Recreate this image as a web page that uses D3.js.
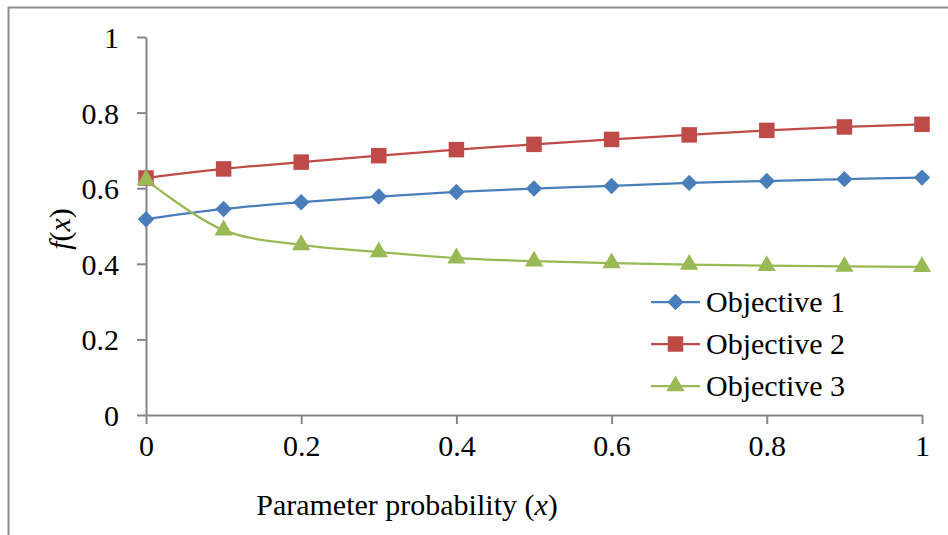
<!DOCTYPE html>
<html>
<head>
<meta charset="utf-8">
<script src="https://cdn.jsdelivr.net/npm/d3@7"></script>
<style>
  body { margin: 0; background: #fff; }
  text { font-family: "Liberation Serif", "Times New Roman", "DejaVu Serif", serif; fill: #000; }
</style>
</head>
<body>
<svg id="chart" width="948" height="535"></svg>
<script>
const xValues = [0, 0.1, 0.2, 0.3, 0.4, 0.5, 0.6, 0.7, 0.8, 0.9, 1];
const objective1 = [0.518, 0.545, 0.563, 0.578, 0.590, 0.599, 0.606, 0.614, 0.619, 0.624, 0.628];
const objective2 = [0.627, 0.651, 0.669, 0.686, 0.702, 0.716, 0.729, 0.741, 0.753, 0.762, 0.769];
const objective3 = [0.622, 0.489, 0.450, 0.431, 0.415, 0.407, 0.402, 0.398, 0.395, 0.393, 0.392];
const seriesNames = ["Objective 1", "Objective 2", "Objective 3"];
const xTicks = [0, 0.2, 0.4, 0.6, 0.8, 1];
const yTicks = [0, 0.2, 0.4, 0.6, 0.8, 1];

const series = [
  { name: seriesNames[0], values: objective1, color: "#4a7ebb", symbol: d3.symbolSquare, size: 135, rot: 45 },
  { name: seriesNames[1], values: objective2, color: "#be4b48", symbol: d3.symbolSquare, size: 240, rot: 0 },
  { name: seriesNames[2], values: objective3, color: "#98b954", symbol: d3.symbolTriangle, size: 145, rot: 0 }
];

const svg = d3.select("#chart");

// outer chart border
svg.append("rect")
  .attr("x", 8.5).attr("y", 7.5)
  .attr("width", 1000).attr("height", 1000)
  .attr("fill", "none")
  .attr("stroke", "#8c8c8c")
  .attr("stroke-width", 2);

const x = d3.scaleLinear().domain([0, 1]).range([146, 922]);
const y = d3.scaleLinear().domain([0, 1]).range([415, 37]);

const axisColor = "#868686";
const fontSize = 30;

const xAxis = svg.append("g")
  .attr("transform", `translate(0,${y(0)})`)
  .call(d3.axisBottom(x).tickValues(xTicks).tickFormat(d3.format("")).tickSizeInner(9).tickSizeOuter(0).tickPadding(11));
const yAxis = svg.append("g")
  .attr("transform", `translate(${x(0)},0)`)
  .call(d3.axisLeft(y).tickValues(yTicks).tickFormat(d3.format("")).tickSizeInner(9).tickSizeOuter(0).tickPadding(18));

[xAxis, yAxis].forEach(a => {
  a.attr("font-family", null).attr("font-size", null);
  a.select(".domain").attr("stroke", axisColor).attr("stroke-width", 2);
  a.selectAll(".tick line").attr("stroke", axisColor).attr("stroke-width", 2);
  a.selectAll(".tick text")
    .attr("font-size", fontSize)
    .attr("fill", "#000");
});
yAxis.selectAll(".tick text").attr("dy", "0.35em");

// axis titles
const xt = svg.append("text")
  .attr("x", 407).attr("y", 515)
  .attr("text-anchor", "middle")
  .attr("font-size", fontSize);
xt.append("tspan").text("Parameter probability (");
xt.append("tspan").attr("font-style", "italic").text("x");
xt.append("tspan").text(")");

const yt = svg.append("text")
  .attr("transform", `translate(70,229) rotate(-90)`)
  .attr("text-anchor", "middle")
  .attr("font-size", fontSize);
yt.append("tspan").attr("font-style", "italic").text("f");
yt.append("tspan").text("(");
yt.append("tspan").attr("font-style", "italic").text("x");
yt.append("tspan").text(")");

const line = d3.line()
  .x((d, i) => x(xValues[i]))
  .y(d => y(d))
  .curve(d3.curveCatmullRom.alpha(0.5));

series.forEach(s => {
  svg.append("path")
    .datum(s.values)
    .attr("d", line)
    .attr("fill", "none")
    .attr("stroke", s.color)
    .attr("stroke-width", 2.25);
});

series.forEach(s => {
  const sym = d3.symbol().type(s.symbol).size(s.size);
  svg.append("g").selectAll("path")
    .data(s.values)
    .join("path")
    .attr("d", sym)
    .attr("transform", (d, i) => `translate(${x(xValues[i])},${y(d)}) rotate(${s.rot})`)
    .attr("fill", s.color);
});

// legend
const legend = svg.append("g").attr("transform", "translate(651,302)");
series.forEach((s, i) => {
  const row = legend.append("g").attr("transform", `translate(0,${i * 42})`);
  row.append("line")
    .attr("x1", 0).attr("x2", 49)
    .attr("stroke", s.color).attr("stroke-width", 2.25);
  row.append("path")
    .attr("d", d3.symbol().type(s.symbol).size(s.size))
    .attr("transform", `translate(24.5,0) rotate(${s.rot})`)
    .attr("fill", s.color);
  row.append("text")
    .attr("x", 55).attr("dy", "0.33em")
    .attr("font-size", fontSize)
    .text(s.name);
});
</script>
</body>
</html>
